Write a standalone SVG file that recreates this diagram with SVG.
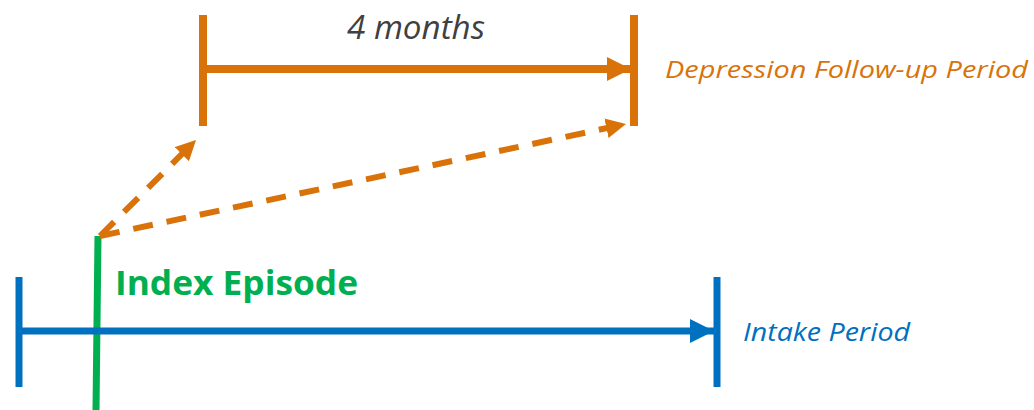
<svg xmlns="http://www.w3.org/2000/svg" width="1034" height="410" viewBox="0 0 1034 410">
<style>
.or{stroke:#D97309;fill:none}
.bl{stroke:#0070C0;fill:none}
.t{font-family:"Open Sans","DejaVu Sans",sans-serif}
</style>
<defs>
<marker id="ao" markerUnits="userSpaceOnUse" markerWidth="26" markerHeight="26" refX="24" refY="12" orient="auto"><path d="M0,0 L24,12 L0,24 Z" fill="#D97309"/></marker>
<marker id="ab" markerUnits="userSpaceOnUse" markerWidth="26" markerHeight="26" refX="24" refY="12" orient="auto"><path d="M0,0 L24,12 L0,24 Z" fill="#0070C0"/></marker>
<marker id="ad" markerUnits="userSpaceOnUse" markerWidth="24" markerHeight="24" refX="20" refY="10" orient="auto"><path d="M0,0 L20,10 L0,20 Z" fill="#D97309"/></marker>
</defs>
<g id="followup">
<line class="or" x1="203" y1="15" x2="203" y2="126" stroke-width="8"/>
<line class="or" x1="634" y1="15" x2="634" y2="126" stroke-width="8"/>
<text class="t" x="347" y="39" font-size="32" font-style="italic" fill="#404040" textLength="138" lengthAdjust="spacingAndGlyphs">4 months</text>
<text class="t" x="665" y="78" font-size="24" font-style="italic" fill="#D97309" textLength="363" lengthAdjust="spacingAndGlyphs">Depression Follow-up Period</text>
</g>
<g id="intake">
<line class="bl" x1="19" y1="277" x2="19" y2="387" stroke-width="7"/>
<line class="bl" x1="717" y1="277" x2="717" y2="387" stroke-width="7"/>
<text class="t" x="743" y="341" font-size="26" font-style="italic" fill="#0070C0" textLength="167" lengthAdjust="spacingAndGlyphs">Intake Period</text>
</g>
<g id="index">
<line x1="98" y1="236" x2="96" y2="410" stroke="#00B050" stroke-width="7"/>
<text class="t" x="115" y="295" font-size="34" font-weight="bold" fill="#00B050" textLength="243" lengthAdjust="spacingAndGlyphs">Index Episode</text>
</g>
<g id="connectors">
<line class="or" x1="203" y1="69" x2="631" y2="69" stroke-width="8" marker-end="url(#ao)"/>
<line class="bl" x1="19" y1="331" x2="714" y2="331" stroke-width="7" marker-end="url(#ab)"/>
<line class="or" x1="100" y1="236" x2="196" y2="140" stroke-width="6" stroke-dasharray="20,14" marker-end="url(#ad)"/>
<line class="or" x1="100" y1="236" x2="626" y2="124" stroke-width="6" stroke-dasharray="20,14" marker-end="url(#ad)"/>
</g>
</svg>
